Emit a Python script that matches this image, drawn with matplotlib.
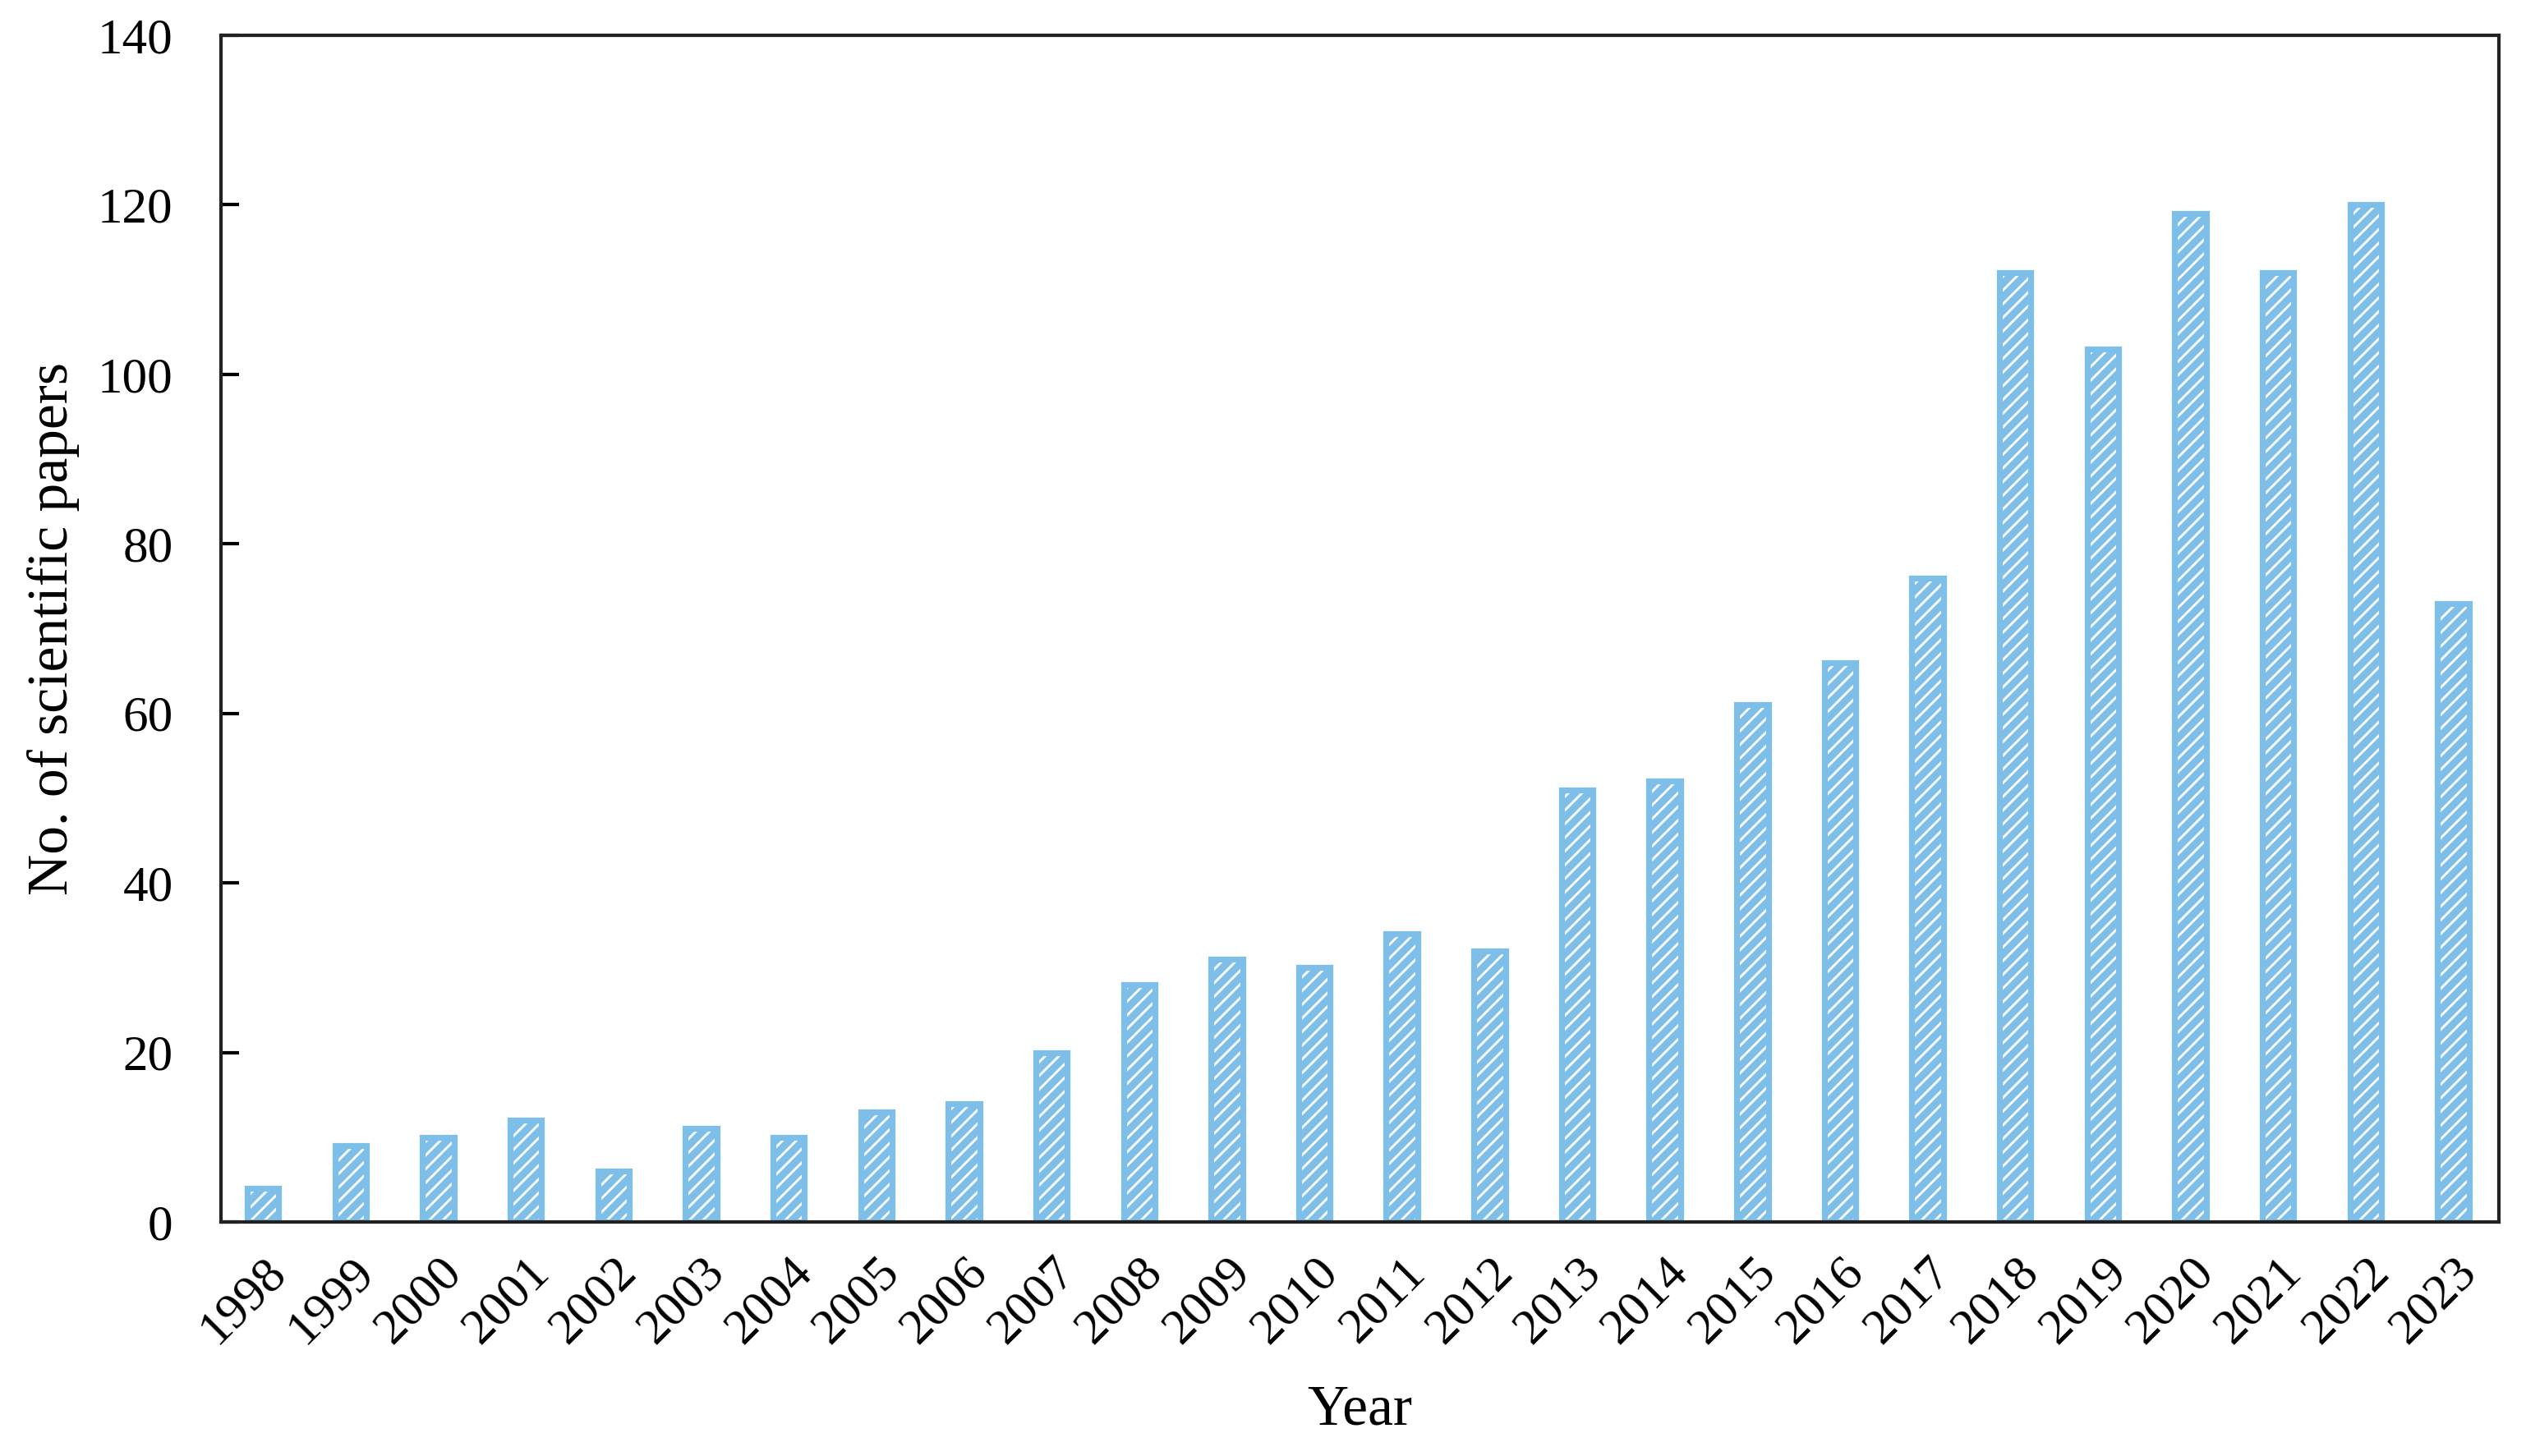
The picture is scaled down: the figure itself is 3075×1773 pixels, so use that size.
import matplotlib
matplotlib.use("Agg")
import matplotlib.pyplot as plt
import numpy as np

# data
years = [str(y) for y in range(1998, 2024)]
papers = [4, 9, 10, 12, 6, 11, 10, 13, 14, 20, 28, 31, 30, 34, 32,
          51, 52, 61, 66, 76, 112, 103, 119, 112, 120, 73]
yticks = [0, 20, 40, 60, 80, 100, 120, 140]

plt.rcParams["font.family"] = ["Liberation Serif", "DejaVu Serif"]
plt.rcParams["hatch.linewidth"] = 3.2
plt.rcParams["hatch.color"] = "#7dbfe8"

fig = plt.figure(figsize=(15.375, 8.865), dpi=200)
ax = fig.add_axes([269 / 3075, 1 - 1488 / 1773, (3042 - 269) / 3075, (1488 - 43) / 1773])

x = np.arange(len(years))
ax.bar(x, papers, width=0.36, facecolor="white", edgecolor="#7dbfe8",
       linewidth=2.6, hatch="////")

ax.set_xlim(-0.48, len(years) - 0.48)
ax.set_ylim(0, 140)
ax.set_yticks(yticks)
ax.set_xticks(x)
ax.set_xticklabels(years, rotation=45, ha="right", rotation_mode="anchor")
ax.tick_params(axis="x", length=0, labelsize=22, pad=12)
ax.tick_params(axis="y", direction="in", length=8, width=1.5, labelsize=22, pad=21)
for s in ax.spines.values():
    s.set_linewidth(1.5)
    s.set_color("#222222")

ax.set_xlabel("Year", fontsize=25, labelpad=14)
ax.set_ylabel("No. of scientific papers", fontsize=25, labelpad=8)

fig.savefig("out.png", dpi=200)
